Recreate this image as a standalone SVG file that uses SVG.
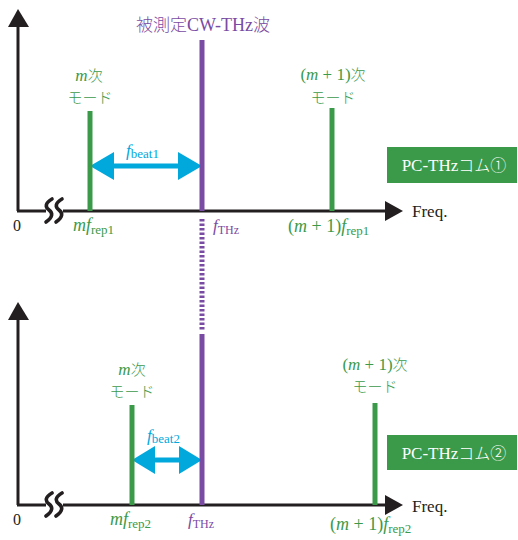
<svg xmlns="http://www.w3.org/2000/svg" width="518" height="540" viewBox="0 0 518 540">
<style>
text{font-family:"Liberation Serif","Noto Sans CJK JP",serif;}
.g{fill:#3a9a4a;}
.p{fill:#7a4ba3;}
.b{fill:#00a8dc;}
.k{fill:#231f20;}
.w{fill:#ffffff;}
.i{font-style:italic;}
.ax{stroke:#231f20;stroke-width:3;fill:none;}
.gl{stroke:#3a9a4a;stroke-width:5;}
.pl{stroke:#7a4ba3;stroke-width:5;}
.sq{stroke:#231f20;stroke-width:3.6;fill:none;stroke-linecap:round;}
.arr{stroke:#00a8dc;stroke-width:5;}
.jp{font-family:"Noto Sans CJK JP",sans-serif;font-weight:300;}
</style>
<g id="axes1">
<line class="ax" x1="18" y1="24" x2="18" y2="211"/>
<polygon class="k" points="18,9 8,27 29,27"/>
<line class="ax" x1="17" y1="211" x2="388" y2="211"/>
<polygon class="k" points="403,211 385,201 385,221"/>
<rect class="w" x="46" y="200" width="17" height="22"/>
<path class="sq" d="M52,199 C45,203 45,207 49,210 C53,213 53,217 46,222"/>
<path class="sq" d="M62,199 C55,203 55,207 59,210 C63,213 63,217 56,222"/>
<text class="k" x="13" y="231" font-size="16">0</text>
<text class="k" x="412" y="217" font-size="17">Freq.</text>
</g>
<g id="axes2">
<line class="ax" x1="18" y1="318" x2="18" y2="505"/>
<polygon class="k" points="18,302 8,320 29,320"/>
<line class="ax" x1="17" y1="505" x2="388" y2="505"/>
<polygon class="k" points="403,505 385,495 385,515"/>
<rect class="w" x="46" y="494" width="17" height="22"/>
<path class="sq" d="M52,493 C45,497 45,501 49,504 C53,507 53,511 46,516"/>
<path class="sq" d="M62,493 C55,497 55,501 59,504 C63,507 63,511 56,516"/>
<text class="k" x="13" y="525" font-size="16">0</text>
<text class="k" x="412" y="512" font-size="17">Freq.</text>
</g>
<g id="connectors">
<line class="pl" x1="202" y1="219" x2="202" y2="330" stroke-width="3" stroke-dasharray="2.5,2"/>
<line class="arr" x1="105" y1="166" x2="188" y2="166"/>
<polygon class="b" points="90,166 114,152 114,180"/>
<polygon class="b" points="202,166 178,152 178,180"/>
<line class="arr" x1="145" y1="460" x2="190" y2="460"/>
<polygon class="b" points="132,460 155,446 155,474"/>
<polygon class="b" points="202,460 179,446 179,474"/>
</g>
<g id="cw-thz">
<line class="pl" x1="202" y1="40" x2="202" y2="211"/>
<text class="p" x="203" y="31" font-size="18" text-anchor="middle"><tspan class="jp" font-size="17">被測定</tspan>CW-THz<tspan class="jp" font-size="17">波</tspan></text>
<text class="p" x="213" y="231" font-size="17"><tspan class="i">f</tspan><tspan font-size="12" dy="3">THz</tspan></text>
</g>
<g id="cw-thz2">
<line class="pl" x1="202" y1="334" x2="202" y2="505"/>
<text class="p" x="188" y="525" font-size="17"><tspan class="i">f</tspan><tspan font-size="12" dy="3">THz</tspan></text>
</g>
<g id="mode-m1">
<line class="gl" x1="90" y1="111" x2="90" y2="211"/>
<text class="g" x="89" y="80.5" font-size="17" text-anchor="middle"><tspan class="i">m</tspan><tspan class="jp" font-size="15">次</tspan></text>
<text class="g jp" x="90" y="103" font-size="15" text-anchor="middle">モード</text>
<text class="g" x="73" y="231" font-size="18"><tspan class="i">mf</tspan><tspan font-size="13" dy="3">rep1</tspan></text>
</g>
<g id="mode-m1plus">
<line class="gl" x1="332" y1="108" x2="332" y2="211"/>
<text class="g" x="333" y="80" font-size="17" text-anchor="middle">(<tspan class="i">m</tspan> + 1)<tspan class="jp" font-size="15">次</tspan></text>
<text class="g jp" x="333" y="102.5" font-size="15" text-anchor="middle">モード</text>
<text class="g" x="288" y="232" font-size="18">(<tspan class="i">m</tspan> + 1)<tspan class="i">f</tspan><tspan font-size="13" dy="3">rep1</tspan></text>
</g>
<g id="beat1">
<text class="b" x="126" y="156" font-size="17"><tspan class="i">f</tspan><tspan font-size="13" dy="2">beat1</tspan></text>
</g>
<g id="comb1">
<rect class="g" x="387" y="147" width="130" height="36"/>
<text class="w" x="454" y="171" font-size="17" text-anchor="middle">PC-THz<tspan class="jp" font-size="16">コム①</tspan></text>
</g>
<g id="mode-m2">
<line class="gl" x1="132" y1="405" x2="132" y2="505"/>
<text class="g" x="132" y="374.5" font-size="17" text-anchor="middle"><tspan class="i">m</tspan><tspan class="jp" font-size="15">次</tspan></text>
<text class="g jp" x="132" y="397" font-size="15" text-anchor="middle">モード</text>
<text class="g" x="110" y="525" font-size="18"><tspan class="i">mf</tspan><tspan font-size="13" dy="3">rep2</tspan></text>
</g>
<g id="mode-m2plus">
<line class="gl" x1="375" y1="403" x2="375" y2="505"/>
<text class="g" x="375" y="369.5" font-size="17" text-anchor="middle">(<tspan class="i">m</tspan> + 1)<tspan class="jp" font-size="15">次</tspan></text>
<text class="g jp" x="375" y="392" font-size="15" text-anchor="middle">モード</text>
<text class="g" x="330" y="530" font-size="18">(<tspan class="i">m</tspan> + 1)<tspan class="i">f</tspan><tspan font-size="13" dy="3">rep2</tspan></text>
</g>
<g id="beat2">
<text class="b" x="147" y="441" font-size="17"><tspan class="i">f</tspan><tspan font-size="13" dy="2">beat2</tspan></text>
</g>
<g id="comb2">
<rect class="g" x="387" y="435" width="130" height="35"/>
<text class="w" x="454" y="459" font-size="17" text-anchor="middle">PC-THz<tspan class="jp" font-size="16">コム②</tspan></text>
</g>
</svg>
